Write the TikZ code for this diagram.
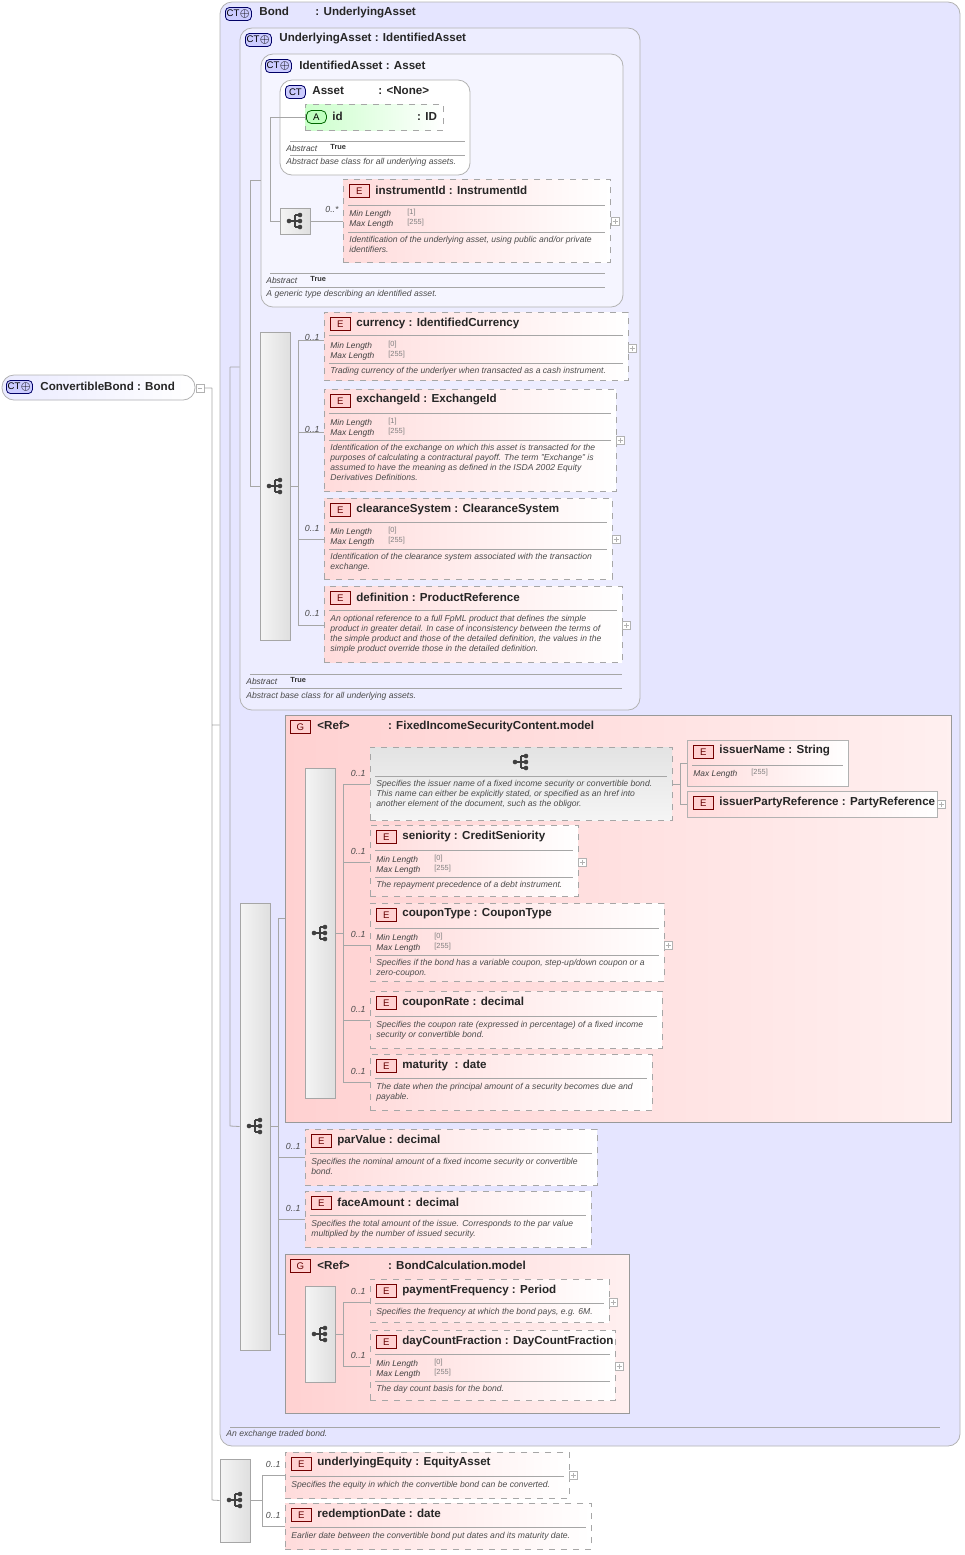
\documentclass[tikz,border=0pt]{standalone}
\usepackage{fontspec}
\setmainfont{Liberation Sans}
\usetikzlibrary{fit}
\tikzset{
  ElemBox/.style  = {draw=gray!70, dashed, left color=red!14, right color=white, inner sep=0pt},
  GrpBox/.style   = {draw=gray!80, left color=red!18, right color=red!6, inner sep=0pt},
  CTBox/.style    = {draw=gray!60, rounded corners=6pt, fill=blue!10, inner sep=0pt},
  BarBox/.style   = {draw=gray!70, left color=gray!8, right color=gray!25, inner sep=0pt},
  Title/.style    = {anchor=west, font=\fontsize{5.8}{6}\selectfont\bfseries, inner sep=0pt, text=black!85},
  Prop/.style     = {anchor=west, font=\fontsize{4.2}{4.6}\selectfont\itshape, inner sep=0pt, text=black!75},
  Val/.style      = {anchor=west, font=\fontsize{3.7}{4}\selectfont, inner sep=0pt, text=black!50},
  Desc/.style     = {anchor=north west, font=\fontsize{4.3}{5}\selectfont\itshape, inner sep=0pt, text=black!70, align=left},
  Card/.style     = {anchor=east, font=\fontsize{4.4}{5}\selectfont\itshape, inner sep=0pt, text=black!70},
  Sep/.style      = {draw=gray!70, line width=0.3pt},
  Wire/.style     = {draw=gray!70, line width=0.4pt},
  BadgeE/.style   = {draw=red!45!black, fill=red!18, text=red!40!black, minimum width=10pt, minimum height=6.5pt, inner sep=0pt, font=\fontsize{4.8}{5}\selectfont, anchor=west},
  BadgeG/.style   = {BadgeE},
  BadgeCT/.style  = {draw=blue!40!black, fill=blue!20, rounded corners=2pt, minimum width=12pt, minimum height=6.5pt, inner sep=0.6pt, font=\fontsize{4.8}{5}\selectfont, anchor=west},
}
% element box: name, x1, y1, x2, y2, title
\newcommand\elem[6]{%
  \node[ElemBox, fit={(#2,#3) (#4,#5)}] (#1) {};
  \node[BadgeE] (#1E) at (#2+6,#3+12) {E};
  \node[Title] (#1T) at (#2+32,#3+11) {#6};}
\newcommand\sepl[3]{\draw[Sep] (#1+5,#3) -- (#2-5,#3);}
\newcommand\minmax[4]{% x, y, min, max
  \node[Prop] at (#1+6,#2) {Min Length}; \node[Val] at (#1+64,#2-1) {[#3]};
  \node[Prop] at (#1+6,#2+10) {Max Length}; \node[Val] at (#1+64,#2+9) {[#4]};}
\newcommand\plusbox[2]{\draw[gray!60,line width=0.3pt,fill=white] (#1-4,#2-4) rectangle (#1+4,#2+4)
  (#1-2.5,#2) -- (#1+2.5,#2) (#1,#2-2.5) -- (#1,#2+2.5);}
\newcommand\seqicon[2]{\fill[black!75] (#1-6,#2) circle (2.3) (#1+5,#2-6) circle (2.3) (#1+5,#2) circle (2.3) (#1+5,#2+6) circle (2.3);
  \draw[black!75,line width=0.6pt] (#1-6,#2) -- (#1,#2) (#1,#2-6) -- (#1,#2+6) (#1,#2-6) -- (#1+5,#2-6) (#1,#2+6) -- (#1+5,#2+6) (#1,#2) -- (#1+5,#2);}
\newcommand\seqbar[5]{\node[BarBox, fit={(#2,#3) (#4,#5)}] (#1) {};}

\begin{document}
\begin{tikzpicture}[x=0.5pt,y=-0.5pt]
\useasboundingbox (0,0) rectangle (965,1555);

% root
\node[CTBox, left color=blue!8, right color=white, fit={(2,375) (195,400)}] (root) {};
\node[BadgeCT] (rootB) at (6,387) {CT$\oplus$};
\node[Title] (rootT) at (40,386) {ConvertibleBond : Bond};
\draw[gray!60,line width=0.3pt,fill=white] (196,384) rectangle (204,392) (198,388) -- (202,388);

% Bond
\node[CTBox, fit={(220,2) (960,1446)}] (bond) {};
\node[BadgeCT] at (225,14) {CT$\oplus$};
\node[Title] at (259,13) {Bond \hspace{10pt} : UnderlyingAsset};
\sepl{225}{945}{1427}
\node[Desc] at (226,1430) {An exchange traded bond.};

% UnderlyingAsset
\node[CTBox, fill=blue!7, fit={(240,28) (640,710)}] (ua) {};
\node[BadgeCT] at (245,40) {CT$\oplus$};
\node[Title] at (279,39) {UnderlyingAsset : IdentifiedAsset};
\sepl{245}{627}{674} \sepl{245}{627}{688}
\node[Prop] at (246,681) {Abstract}; \node[Val, font=\fontsize{3.7}{4}\selectfont\bfseries, text=black!80] at (290,680) {True};
\node[Desc] at (246,692) {Abstract base class for all underlying assets.};

% IdentifiedAsset
\node[CTBox, fill=blue!4, fit={(261,54) (623,307)}] (ia) {};
\node[BadgeCT] at (265,66) {CT$\oplus$};
\node[Title] at (299,65) {IdentifiedAsset : Asset};
\sepl{265}{610}{273} \sepl{265}{610}{287}
\node[Prop] at (266,280) {Abstract}; \node[Val, font=\fontsize{3.7}{4}\selectfont\bfseries, text=black!80] at (310,279) {True};
\node[Desc] at (266,290) {A generic type describing an identified asset.};

% Asset
\node[CTBox, fill=white, fit={(280,80) (470,175)}] (asset) {};
\node[BadgeCT, minimum width=10pt] at (285,92) {CT};
\node[Title] at (312,91) {Asset \hspace{14pt} : <None>};
\node[draw=gray!70, dashed, left color=green!20, right color=white, fit={(305,104) (443,130)}, inner sep=0pt] (attid) {};
\node[draw=green!40!black, fill=green!25, rounded corners=2.5pt, minimum width=10pt, minimum height=6.5pt, inner sep=0pt, font=\fontsize{4.8}{5}\selectfont, anchor=west] at (306,117) {A};
\node[Title] at (332,116) {id \hspace{34pt} : ID};
\sepl{285}{470}{141} \sepl{285}{470}{155}
\node[Prop] at (286,148) {Abstract}; \node[Val, font=\fontsize{3.7}{4}\selectfont\bfseries, text=black!80] at (330,147) {True};
\node[Desc] at (286,158) {Abstract base class for all underlying assets.};

% instrumentId
\seqbar{seqA}{280}{208}{310}{234} \seqicon{295}{221}
\node[Card] at (339,209) {0..*};
\elem{instr}{343}{179}{610}{262}{instrumentId : InstrumentId}
\sepl{343}{610}{205} \minmax{343}{214}{1}{255} \sepl{343}{610}{232}
\node[Desc] at (349,236) {Identification of the underlying asset, using public and/or private\\identifiers.};
\plusbox{615}{221}

% first sequence
\seqbar{seqB}{260}{332}{290}{640} \seqicon{275}{486}
\elem{curr}{324}{312}{628}{380}{currency : IdentifiedCurrency}
\node[Card] at (320,337) {0..1};
\sepl{324}{628}{335} \minmax{324}{346}{0}{255} \sepl{324}{628}{363}
\node[Desc] at (330,367) {Trading currency of the underlyer when transacted as a cash instrument.};
\plusbox{632}{348}
\elem{exch}{324}{389}{616}{491}{exchangeId : ExchangeId}
\node[Card] at (320,429) {0..1};
\sepl{324}{616}{413} \minmax{324}{423}{1}{255} \sepl{324}{616}{440}
\node[Desc] at (330,444) {Identification of the exchange on which this asset is transacted for the\\purposes of calculating a contractural payoff. The term "Exchange" is\\assumed to have the meaning as defined in the ISDA 2002 Equity\\Derivatives Definitions.};
\plusbox{620}{440}
\elem{clear}{324}{498}{612}{579}{clearanceSystem : ClearanceSystem}
\node[Card] at (320,528) {0..1};
\sepl{324}{612}{522} \minmax{324}{532}{0}{255} \sepl{324}{612}{549}
\node[Desc] at (330,553) {Identification of the clearance system associated with the transaction\\exchange.};
\plusbox{616}{539}
\elem{defn}{324}{586}{622}{662}{definition : ProductReference}
\node[Card] at (320,613) {0..1};
\sepl{324}{622}{610}
\node[Desc] at (330,615) {An optional reference to a full FpML product that defines the simple\\product in greater detail. In case of inconsistency between the terms of\\the simple product and those of the detailed definition, the values in the\\simple product override those in the detailed definition.};
\plusbox{626}{625}

% second sequence
\seqbar{seqC}{240}{903}{270}{1350} \seqicon{255}{1126}
\node[GrpBox, fit={(285,715) (951,1122)}] (fisc) {};
\node[BadgeG] at (290,727) {G};
\node[Title] at (317,726) {<Ref> \hspace{16pt} : FixedIncomeSecurityContent.model};
\seqbar{seqD}{305}{768}{335}{1098} \seqicon{320}{933}
\node[draw=gray!70, dashed, top color=gray!22, bottom color=gray!8, fit={(370,747) (672,820)}, inner sep=0pt] (choice) {};
\seqicon{521}{762}
\node[Card] at (366,773) {0..1};
\sepl{370}{672}{776}
\node[Desc] at (376,780) {Specifies the issuer name of a fixed income security or convertible bond.\\This name can either be explicitly stated, or specified as an href into\\another element of the document, such as the obligor.};
\node[draw=gray!60, left color=red!14, right color=white, fit={(687,740) (848,786)}, inner sep=0pt] (iname) {};
\node[BadgeE] at (693,752) {E}; \node[Title] at (719,751) {issuerName : String};
\sepl{687}{848}{765}
\node[Prop] at (693,774) {Max Length}; \node[Val] at (751,773) {[255]};
\node[draw=gray!60, left color=red!14, right color=white, fit={(687,791) (937,817)}, inner sep=0pt] (iparty) {};
\node[BadgeE] at (693,803) {E}; \node[Title] at (719,802) {issuerPartyReference : PartyReference};
\plusbox{941}{804}
\elem{senior}{370}{825}{578}{896}{seniority : CreditSeniority}
\node[Card] at (366,851) {0..1};
\sepl{370}{578}{850} \minmax{370}{860}{0}{255} \sepl{370}{578}{877}
\node[Desc] at (376,881) {The repayment precedence of a debt instrument.};
\plusbox{582}{862}
\elem{ctype}{370}{903}{664}{981}{couponType : CouponType}
\node[Card] at (366,934) {0..1};
\sepl{370}{664}{928} \minmax{370}{938}{0}{255} \sepl{370}{664}{955}
\node[Desc] at (376,959) {Specifies if the bond has a variable coupon, step-up/down coupon or a\\zero-coupon.};
\plusbox{668}{945}
\elem{crate}{370}{991}{662}{1048}{couponRate : decimal}
\node[Card] at (366,1009) {0..1};
\sepl{370}{662}{1016}
\node[Desc] at (376,1021) {Specifies the coupon rate (expressed in percentage) of a fixed income\\security or convertible bond.};
\elem{matur}{370}{1054}{652}{1110}{maturity \ : date}
\node[Card] at (366,1071) {0..1};
\sepl{370}{652}{1078}
\node[Desc] at (376,1083) {The date when the principal amount of a security becomes due and\\payable.};
\elem{parv}{305}{1129}{597}{1185}{parValue : decimal}
\node[Card] at (301,1146) {0..1};
\sepl{305}{597}{1153}
\node[Desc] at (311,1158) {Specifies the nominal amount of a fixed income security or convertible\\bond.};
\elem{facea}{305}{1191}{591}{1247}{faceAmount : decimal}
\node[Card] at (301,1208) {0..1};
\sepl{305}{591}{1215}
\node[Desc] at (311,1220) {Specifies the total amount of the issue. Corresponds to the par value\\multiplied by the number of issued security.};
\node[GrpBox, fit={(285,1254) (629,1413)}] (bcalc) {};
\node[BadgeG] at (290,1266) {G};
\node[Title] at (317,1265) {<Ref> \hspace{16pt} : BondCalculation.model};
\seqbar{seqE}{305}{1286}{335}{1382} \seqicon{320}{1334}
\elem{payf}{370}{1279}{609}{1322}{paymentFrequency : Period}
\node[Card] at (366,1291) {0..1};
\sepl{370}{609}{1303}
\node[Desc] at (376,1308) {Specifies the frequency at which the bond pays, e.g. 6M.};
\plusbox{613}{1302}
\elem{dcf}{370}{1330}{615}{1400}{dayCountFraction : DayCountFraction}
\node[Card] at (366,1355) {0..1};
\sepl{370}{615}{1354} \minmax{370}{1364}{0}{255} \sepl{370}{615}{1381}
\node[Desc] at (376,1385) {The day count basis for the bond.};
\plusbox{619}{1366}

% bottom sequence
\seqbar{seqF}{220}{1459}{250}{1542} \seqicon{235}{1500}
\elem{uequ}{285}{1452}{569}{1498}{underlyingEquity : EquityAsset}
\node[Card] at (281,1464) {0..1};
\sepl{285}{569}{1476}
\node[Desc] at (291,1481) {Specifies the equity in which the convertible bond can be converted.};
\plusbox{573}{1475}
\elem{redd}{285}{1503}{591}{1549}{redemptionDate : date}
\node[Card] at (281,1515) {0..1};
\sepl{285}{591}{1527}
\node[Desc] at (291,1532) {Earlier date between the convertible bond put dates and its maturity date.};

% wires
\draw[Wire] (204,388) -- (212,388) (212,388) -- (212,1500) (212,725) -- (bond.west|-0,725) (212,1500) -- (seqF.west);
\draw[Wire] (230,367) -- (230,1126) (230,367) -- (ua.west|-0,367) (230,1126) -- (seqC.west);
\draw[Wire] (250,180) -- (250,486) (250,180) -- (ia.west|-0,180) (250,486) -- (seqB.west);
\draw[Wire] (270,117) -- (270,221) (270,117) -- (attid.west) (270,221) -- (seqA.west);
\draw[Wire] (seqA.east) -- (instr.west|-0,221);
\draw[Wire] (seqB.east|-0,486) -- (298,486) (298,340) -- (298,625);
\foreach \y/\n in {340/curr,432/exch,539/clear,625/defn} \draw[Wire] (298,\y) -- (\n.west|-0,\y);
\draw[Wire] (seqC.east|-0,1126) -- (278,1126) (278,918) -- (278,1334);
\foreach \y/\n in {918/fisc,1157/parv,1219/facea,1334/bcalc} \draw[Wire] (278,\y) -- (\n.west|-0,\y);
\draw[Wire] (seqD.east|-0,933) -- (343,933) (343,784) -- (343,1082);
\foreach \y/\n in {784/choice,862/senior,945/ctype,1020/crate,1082/matur} \draw[Wire] (343,\y) -- (\n.west|-0,\y);
\draw[Wire] (choice.east|-0,784) -- (680,784) (680,763) -- (680,804) (680,763) -- (iname.west|-0,763) (680,804) -- (iparty.west|-0,804);
\draw[Wire] (seqE.east|-0,1334) -- (343,1334) (343,1302) -- (343,1366) (343,1302) -- (payf.west|-0,1302) (343,1366) -- (dcf.west|-0,1366);
\draw[Wire] (seqF.east|-0,1500) -- (262,1500) (262,1475) -- (262,1526) (262,1475) -- (uequ.west|-0,1475) (262,1526) -- (redd.west|-0,1526);
\end{tikzpicture}
\end{document}
